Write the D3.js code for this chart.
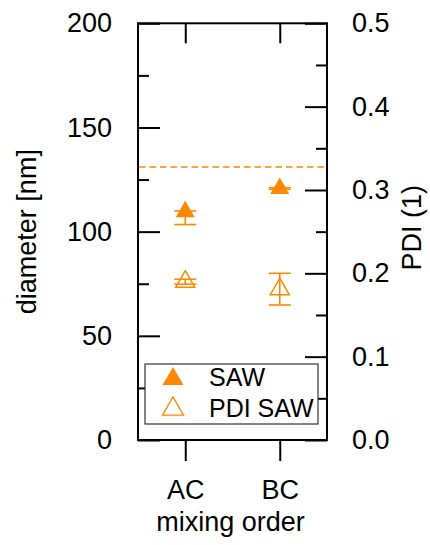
<!DOCTYPE html>
<html>
<head>
<meta charset="utf-8">
<script src="https://cdn.jsdelivr.net/npm/d3@7"></script>
<style>
  html, body { margin: 0; padding: 0; background: #fff; }
  svg { display: block; font-family: "Liberation Sans", Arial, sans-serif; }
</style>
</head>
<body>
<svg id="chart" width="430" height="545"></svg>
<script>
// ---- data ----
const categories = ["AC", "BC"];
const sawDiameter = [109.6, 120.7];      // nm, filled triangles (left axis)
const sawErrLow = [6.2, 0.4];
const sawErrHigh = [0.3, 0.4];
const pdiSaw = [0.190, 0.181];           // PDI, open triangles (right axis)
const pdiErr = [0.003, 0.019];
const refDiameter = 131;                 // dashed reference line
const leftTicks = [0, 50, 100, 150, 200];
const leftMinor = [25, 75, 125, 175];
const rightTicks = [0.0, 0.1, 0.2, 0.3, 0.4, 0.5];
const rightMinor = [0.05, 0.15, 0.25, 0.35, 0.45];
const legendLabels = ["SAW", "PDI SAW"];

// ---- layout ----
const orange = "#ff8800";
const L = 138, R = 327, T = 23.3, B = 440;
const svg = d3.select("#chart");

const x = d3.scalePoint().domain(categories).range([L, R]).padding(0.5);
const yL = d3.scaleLinear().domain([0, 200]).range([B, T]);
const yR = d3.scaleLinear().domain([0, 0.5]).range([B, T]);

const fontSize = 27;

function styleAxis(g) {
  g.select(".domain").remove();
  g.selectAll(".tick line").attr("stroke", "#000").attr("stroke-width", 2);
  g.selectAll(".tick text").attr("fill", "#000").style("font-size", fontSize + "px")
    .style("font-family", '"Liberation Sans", Arial, sans-serif');
}

// left axis
svg.append("g").attr("transform", `translate(${L},0)`)
  .call(d3.axisLeft(yL).tickValues(leftTicks).tickSize(-22).tickPadding(26).tickFormat(d3.format("d")))
  .call(styleAxis);
svg.append("g").attr("transform", `translate(${L},0)`)
  .call(d3.axisLeft(yL).tickValues(leftMinor).tickSize(-11).tickFormat(""))
  .call(styleAxis);

// right axis
svg.append("g").attr("transform", `translate(${R},0)`)
  .call(d3.axisRight(yR).tickValues(rightTicks).tickSize(-22).tickPadding(25).tickFormat(d3.format(".1f")))
  .call(styleAxis);
svg.append("g").attr("transform", `translate(${R},0)`)
  .call(d3.axisRight(yR).tickValues(rightMinor).tickSize(-11).tickFormat(""))
  .call(styleAxis);

// bottom axis (outward ticks)
svg.append("g").attr("transform", `translate(0,${B})`)
  .call(d3.axisBottom(x).tickSize(21).tickPadding(19))
  .call(styleAxis);
// top axis (inward ticks)
svg.append("g").attr("transform", `translate(0,${T})`)
  .call(d3.axisTop(x).tickSize(-20).tickFormat(""))
  .call(styleAxis);

// frame
svg.append("rect").attr("x", L).attr("y", T).attr("width", R - L).attr("height", B - T)
  .attr("fill", "none").attr("stroke", "#000").attr("stroke-width", 2);

// dashed reference line
svg.append("line")
  .attr("x1", L + 1).attr("x2", R - 1)
  .attr("y1", yL(refDiameter)).attr("y2", yL(refDiameter))
  .attr("stroke", orange).attr("stroke-width", 1.5).attr("stroke-dasharray", "6.5,4");

// ---- error bars ----
const capW = 22;
function errorBar(cx, yHi, yLo) {
  const g = svg.append("g").attr("stroke", orange).attr("stroke-width", 1.6).attr("fill", "none");
  g.append("line").attr("x1", cx).attr("x2", cx).attr("y1", yHi).attr("y2", yLo);
  g.append("line").attr("x1", cx - capW / 2).attr("x2", cx + capW / 2).attr("y1", yHi).attr("y2", yHi);
  g.append("line").attr("x1", cx - capW / 2).attr("x2", cx + capW / 2).attr("y1", yLo).attr("y2", yLo);
}

categories.forEach((c, i) => {
  errorBar(x(c), yL(sawDiameter[i] + sawErrHigh[i]), yL(sawDiameter[i] - sawErrLow[i]));
  errorBar(x(c), yR(pdiSaw[i] + pdiErr[i]), yR(pdiSaw[i] - pdiErr[i]));
});

// ---- markers ----
function triSize(side) { const yy = side / (2 * Math.sqrt(3)); return yy * yy * 3 * Math.sqrt(3); }
const tri = d3.symbol().type(d3.symbolTriangle).size(triSize(19));

svg.append("g").selectAll("path.saw").data(categories).join("path")
  .attr("class", "saw")
  .attr("transform", (c, i) => `translate(${x(c)},${yL(sawDiameter[i])})`)
  .attr("d", tri).attr("fill", orange);

svg.append("g").selectAll("path.pdi").data(categories).join("path")
  .attr("class", "pdi")
  .attr("transform", (c, i) => `translate(${x(c)},${yR(pdiSaw[i])})`)
  .attr("d", tri).attr("fill", "none").attr("stroke", orange).attr("stroke-width", 1.5);

// ---- axis titles ----
svg.append("text").attr("transform", `translate(36,${(T + B) / 2}) rotate(-90)`)
  .attr("text-anchor", "middle").style("font-size", fontSize + "px").text("diameter [nm]");
svg.append("text").attr("transform", `translate(421,${(T + B) / 2 - 4}) rotate(-90)`)
  .attr("text-anchor", "middle").style("font-size", fontSize + "px").text("PDI (1)");
svg.append("text").attr("x", (L + R) / 2 - 2).attr("y", 531)
  .attr("text-anchor", "middle").style("font-size", fontSize + "px").text("mixing order");

// ---- legend ----
const leg = svg.append("g");
leg.append("rect").attr("x", 145).attr("y", 364).attr("width", 173).attr("height", 60)
  .attr("fill", "#fff").attr("stroke", "#333").attr("stroke-width", 1.2);
const triL = d3.symbol().type(d3.symbolTriangle).size(triSize(21));
leg.append("path").attr("transform", "translate(173,379)").attr("d", triL).attr("fill", orange);
leg.append("path").attr("transform", "translate(173,409)").attr("d", triL)
  .attr("fill", "none").attr("stroke", orange).attr("stroke-width", 1.3);
leg.selectAll("text").data(legendLabels).join("text")
  .attr("x", 209).attr("y", (d, i) => 386 + i * 30.5)
  .style("font-size", "25px").text(d => d);
</script>
</body>
</html>
